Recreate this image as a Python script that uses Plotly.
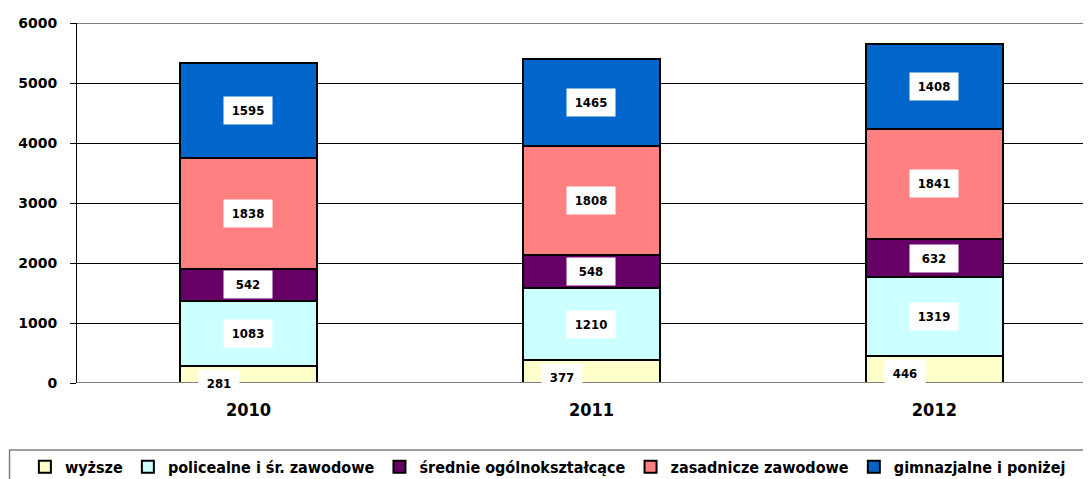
import plotly.graph_objects as go

years = ["2010", "2011", "2012"]
series_names = ["wyższe", "policealne i śr. zawodowe", "średnie ogólnokształcące",
                "zasadnicze zawodowe", "gimnazjalne i poniżej"]
wyzsze = [281, 377, 446]
policealne = [1083, 1210, 1319]
srednie = [542, 548, 632]
zasadnicze = [1838, 1808, 1841]
gimnazjalne = [1595, 1465, 1408]
colors = ["#FFFFCC", "#CCFFFF", "#660066", "#FF8080", "#0066CC"]

series = [wyzsze, policealne, srednie, zasadnicze, gimnazjalne]

NARROW = "Liberation Sans Narrow, DejaVu Sans Condensed, Arial Narrow, sans-serif"

fig = go.Figure()
for name, vals, col in zip(series_names, series, colors):
    fig.add_trace(go.Bar(
        x=years, y=vals, name=name, width=0.4,
        marker=dict(color=col, line=dict(color="black", width=2)),
    ))

for si, vals in enumerate(series):
    for xi, yr in enumerate(years):
        base = sum(series[k][xi] for k in range(si))
        v = vals[xi]
        if si == 0:
            fig.add_annotation(x=xi, y=v, xref="x", yref="y", text="<b>" + str(v) + "</b>",
                               showarrow=False, bgcolor="white",
                               font=dict(family=NARROW, size=13, color="black"),
                               width=36, height=23, borderpad=2, xshift=-29, yshift=-17)
        else:
            fig.add_annotation(x=xi, y=base + v / 2, xref="x", yref="y", text="<b>" + str(v) + "</b>",
                               showarrow=False, bgcolor="white",
                               font=dict(family=NARROW, size=13, color="black"),
                               width=44, height=23, borderpad=2)

fig.update_layout(
    barmode="stack",
    width=1091, height=479,
    margin=dict(l=69, r=0, t=15, b=104, autoexpand=False),
    paper_bgcolor="white", plot_bgcolor="white",
    showlegend=True,
    legend=dict(orientation="h", x=-0.051, xanchor="left", y=-0.186, yanchor="top",
                font=dict(family=NARROW, size=16, color="black", weight="bold"),
                traceorder="normal", bgcolor="rgba(0,0,0,0)"),
    xaxis=dict(type="category", range=[-0.5, 2.48], showgrid=False, showline=False, ticks="",
               ticklabelstandoff=14,
               tickfont=dict(family=NARROW, size=18, color="black", weight="bold")),
    yaxis=dict(range=[0, 6000], dtick=1000, showgrid=True, gridcolor="black", gridwidth=1,
               showline=True, linecolor="black", linewidth=1, ticks="outside", ticklen=6,
               tickcolor="black", zeroline=False, ticklabelstandoff=10,
               tickfont=dict(family="DejaVu Sans, sans-serif", size=14, color="black", weight="bold")),
    shapes=[
        dict(type="line", xref="paper", yref="y", x0=0, x1=1, y0=0, y1=0,
             line=dict(color="#808080", width=2)),
        dict(type="line", xref="paper", yref="y", x0=0, x1=1, y0=6000, y1=6000,
             line=dict(color="#808080", width=2)),
        dict(type="rect", xref="paper", yref="paper", x0=-0.066, x1=1.05, y0=-0.186, y1=-0.4,
             line=dict(color="#7f7f7f", width=1.5), layer="below"),
    ],
)
fig.write_html("out.html")
